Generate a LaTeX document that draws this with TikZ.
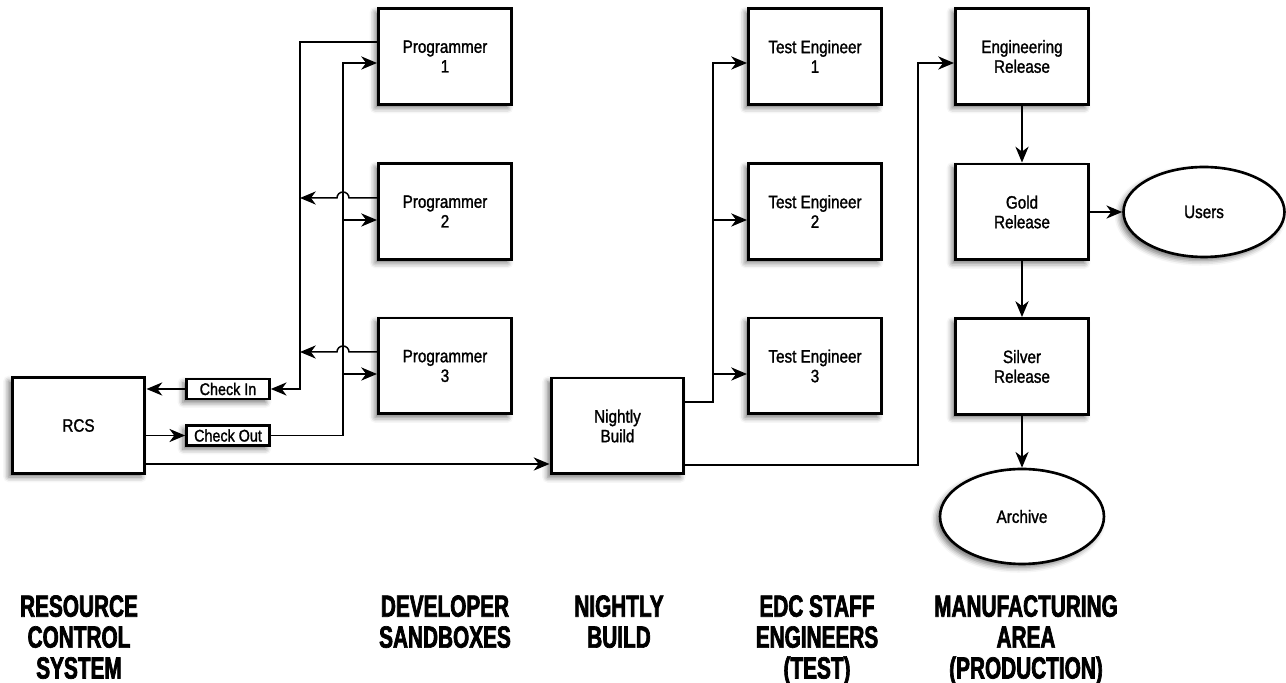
\documentclass[tikz,border=0pt]{standalone}
\usepackage{fontspec}
\setmainfont{Liberation Sans}[FakeStretch=0.85, FakeBold=1.4]
\newfontfamily\areafont{Liberation Sans}[FakeStretch=0.68, FakeBold=2.2]
\usetikzlibrary{arrows.meta, shadows, shadows.blur, shapes.geometric}

\begin{document}
\begin{tikzpicture}[x=0.02cm, y=0.02cm,
    >={Stealth[length=9pt, width=7.5pt, inset=2.8pt]},
    box/.style={draw, line width=1.7pt, fill=white, align=center,
      minimum width=2.66cm, minimum height=1.92cm, inner sep=0pt,
      font=\fontsize{10.2}{11.2}\selectfont,
      blur shadow={shadow xshift=-2pt, shadow yshift=-2pt,
        shadow blur radius=3pt, shadow opacity=55}},
    tag/.style={box, line width=1.5pt, minimum width=1.66cm, minimum height=0.4cm,
      font=\fontsize{9.6}{11}\selectfont},
    oval/.style={box, ellipse, line width=1.5pt},
    wire/.style={line width=0.85pt},
    area/.style={font=\areafont\bfseries\fontsize{17.4}{17.6}\selectfont,
      align=center, anchor=north, inner sep=0pt}]
  \useasboundingbox (0,0) rectangle (1286,683);

  \node[box] (rcs) at (78.5,257.5) {RCS};
  \node[tag] (cin) at (228,294) {Check In};
  \node[tag] (cout) at (228,247.5) {Check Out};

  \node[box] (p1) at (445,626.5) {Programmer\\1};
  \node[box] (p2) at (445,471.5) {Programmer\\2};
  \node[box] (p3) at (445,317) {Programmer\\3};

  \node[box] (nb) at (617.5,257) {Nightly\\Build};

  \node[box] (t1) at (815,626.5) {Test Engineer\\1};
  \node[box] (t2) at (815,471.5) {Test Engineer\\2};
  \node[box] (t3) at (815,317) {Test Engineer\\3};

  \node[box] (er) at (1022,626.5) {Engineering\\Release};
  \node[box] (gr) at (1022,471) {Gold\\Release};
  \node[box] (sr) at (1022,316.5) {Silver\\Release};
  \node[oval, minimum width=3.22cm, minimum height=1.8cm] (us) at (1204,471) {Users};
  \node[oval, minimum width=3.28cm, minimum height=1.9cm] (ar) at (1022,166.5) {Archive};

  \node[area] (lrcs) at (79,88) {RESOURCE\\CONTROL\\SYSTEM};
  \node[area] (ldev) at (445,88) {DEVELOPER\\SANDBOXES};
  \node[area] (lnb) at (619,88) {NIGHTLY\\BUILD};
  \node[area] (ledc) at (817,88) {EDC STAFF\\ENGINEERS\\(TEST)};
  \node[area] (lman) at (1026,88) {MANUFACTURING\\AREA\\(PRODUCTION)};

  \coordinate (inbus) at (300,641);
  \coordinate (outbus) at (343,620);
  \coordinate (nbbus) at (713,620);
  \coordinate (erbus) at (918,620);

  \draw[wire,->] (p1.west |- inbus) -- (inbus) |- (cin);
  \draw[wire,->] (p2.west |- 0,485) -- (349,485) arc (0:180:6) -- (300,485);
  \draw[wire,->] (p3.west |- 0,331) -- (349,331) arc (0:180:6) -- (300,331);
  \draw[wire,->] (cout) -| (outbus) -- (p1.west |- outbus);
  \draw[wire,->] (343,463) -- (p2.west |- 0,463);
  \draw[wire,->] (343,309) -- (p3.west |- 0,309);
  \draw[wire,->] (cin) -- (rcs.east |- cin);
  \draw[wire,->] (rcs.east |- cout) -- (cout);
  \draw[wire,->] (rcs.east |- 0,219) -- (nb.west |- 0,219);

  \draw[wire,->] (nb.east |- 0,281) -| (nbbus) -- (t1.west |- nbbus);
  \draw[wire,->] (713,463) -- (t2.west |- 0,463);
  \draw[wire,->] (713,309) -- (t3.west |- 0,309);
  \draw[wire,->] (nb.east |- 0,218) -| (erbus) -- (er.west |- erbus);

  \draw[wire,->] (er) -- (gr);
  \draw[wire,->] (gr) -- (sr);
  \draw[wire,->] (gr) -- (us);
  \draw[wire,->] (sr) -- (ar);
\end{tikzpicture}
\end{document}
